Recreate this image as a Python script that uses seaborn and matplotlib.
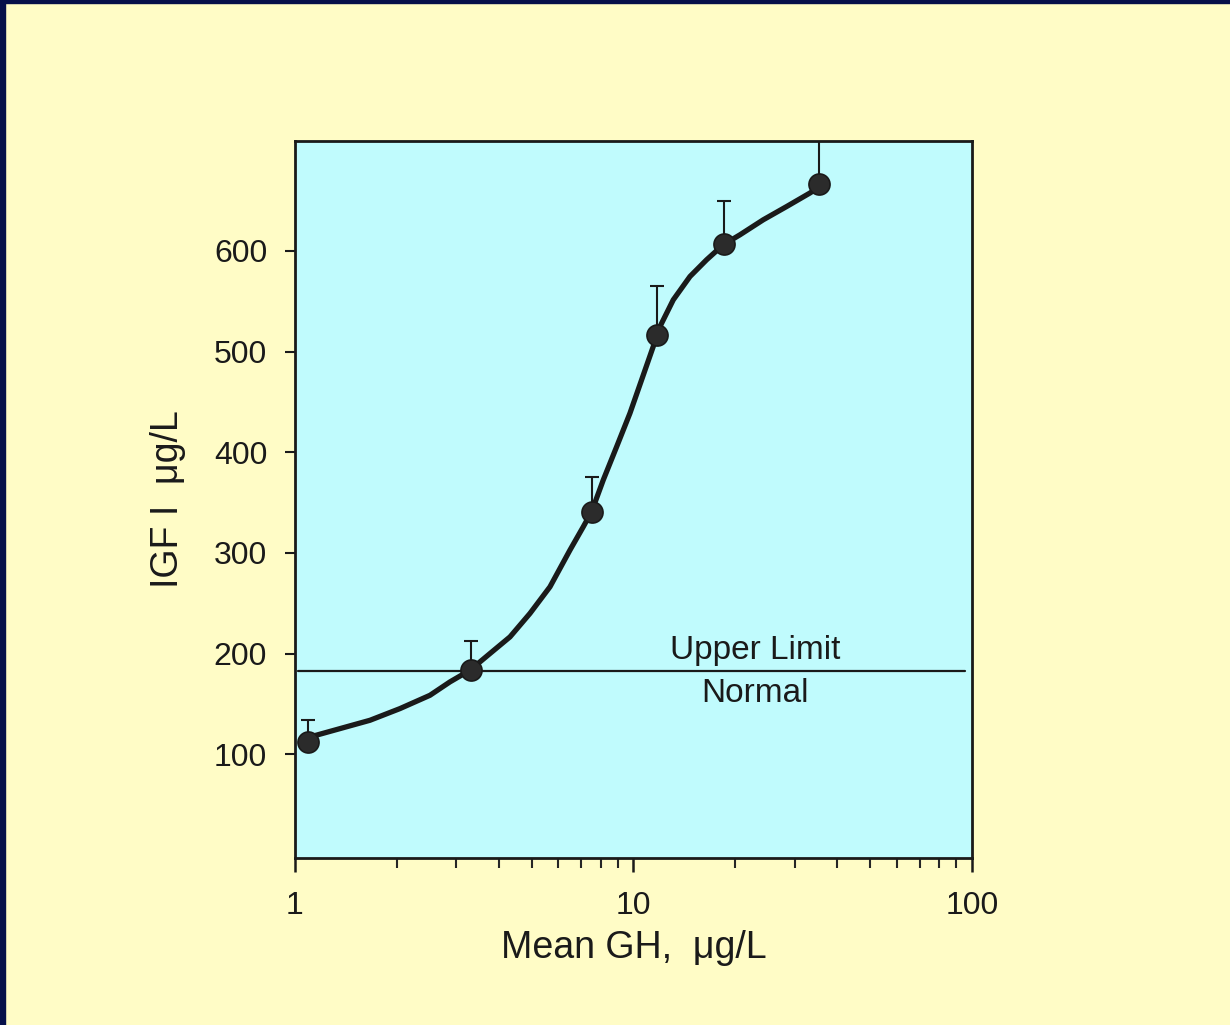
import matplotlib
matplotlib.use("Agg")
import matplotlib.pyplot as plt
import matplotlib.ticker as mticker
from matplotlib.patches import Rectangle
import seaborn as sns
import pandas as pd

# --- DATA ---
gh_points = [1.09, 3.31, 7.54, 11.7, 18.5, 35.3]
igf_points = [112, 184, 341, 516, 607, 666]
err_up = [22, 29, 34, 49, 42, 55]

# smooth fitted curve
curve_gh = [1.093, 1.107, 1.358, 1.666, 2.043, 2.505, 2.870, 3.289, 3.769, 4.318,
            4.946, 5.667, 6.493, 7.107, 7.523, 8.143, 8.921, 9.765, 10.57, 11.44,
            11.98, 13.11, 14.69, 16.45, 18.42, 20.64, 24.18, 28.36, 33.22, 35.56]
curve_igf = [113.9, 117.2, 125.5, 133.8, 145.4, 158.6, 171.9, 183.5, 200.1, 216.6,
             239.9, 266.3, 302.8, 325.9, 340.9, 372.4, 405.5, 438.7, 471.8, 504.9,
             524.8, 551.3, 574.5, 591.1, 606.0, 615.9, 630.8, 644.0, 657.4, 663.9]

upper_limit = 182.5

BG = "#fffcc6"
AX_BG = "#c0fbfd"
INK = "#1a1a1a"

sns.set_theme(style="ticks")
plt.rcParams['font.family'] = ['Liberation Sans', 'DejaVu Sans']

fig = plt.figure(figsize=(12.3, 10.25), dpi=100, facecolor=BG)
# dark slide frame on top and left edges
fig.patches.append(Rectangle((0, 1 - 3 / 1025), 1, 3 / 1025, transform=fig.transFigure,
                             color="#06104a", zorder=0))
fig.patches.append(Rectangle((0, 0), 5 / 1230, 1, transform=fig.transFigure,
                             color="#06104a", zorder=0))

ax = fig.add_axes([0.2398, 0.1629, 0.5504, 0.6995])
ax.set_facecolor(AX_BG)

curve_df = pd.DataFrame({"gh": curve_gh, "igf": curve_igf})
pts_df = pd.DataFrame({"gh": gh_points, "igf": igf_points})

ax.axhline(upper_limit, xmin=0.005, xmax=0.99, color=INK, lw=1.6, zorder=2)

ax.errorbar(gh_points, igf_points, yerr=[[0] * len(err_up), err_up], fmt="none",
            ecolor=INK, elinewidth=1.5, capsize=5, capthick=1.5, zorder=3)
line = sns.lineplot(data=curve_df, x="gh", y="igf", sort=False, color=INK, lw=3.8,
                    ax=ax, zorder=4)
ax.lines[-1].set_solid_joinstyle("round")
ax.lines[-1].set_solid_capstyle("round")
sns.scatterplot(data=pts_df, x="gh", y="igf", s=230, color="#2b2b2b",
                edgecolor=INK, linewidth=1.2, ax=ax, zorder=5)

ax.text(22.9, 203, "Upper Limit", ha="center", va="center", fontsize=24, color=INK)
ax.text(22.9, 160, "Normal", ha="center", va="center", fontsize=24, color=INK)

ax.set_xscale("log")
ax.set_xlim(1, 100)
ax.set_ylim(-3, 709)
ax.set_yticks([100, 200, 300, 400, 500, 600])
ax.xaxis.set_major_locator(mticker.FixedLocator([1, 10, 100]))
ax.xaxis.set_major_formatter(mticker.FixedFormatter(["1", "10", "100"]))
ax.xaxis.set_minor_locator(mticker.LogLocator(base=10, subs=range(2, 10)))
ax.xaxis.set_minor_formatter(mticker.NullFormatter())

ax.tick_params(axis="y", direction="out", length=7, width=1.5, pad=13,
               labelsize=23, colors=INK)
ax.tick_params(axis="x", which="major", direction="out", length=10, width=1.8,
               pad=14, labelsize=23, colors=INK)
ax.tick_params(axis="x", which="minor", direction="out", length=7, width=1.5)

for sp in ax.spines.values():
    sp.set_color(INK)
    sp.set_linewidth(2)

ax.set_xlabel("Mean GH,  μg/L", fontsize=27, color=INK, labelpad=6)
ax.set_ylabel("IGF I  μg/L", fontsize=27, color=INK, labelpad=20)

fig.savefig("out.png", dpi=100, facecolor=BG)
